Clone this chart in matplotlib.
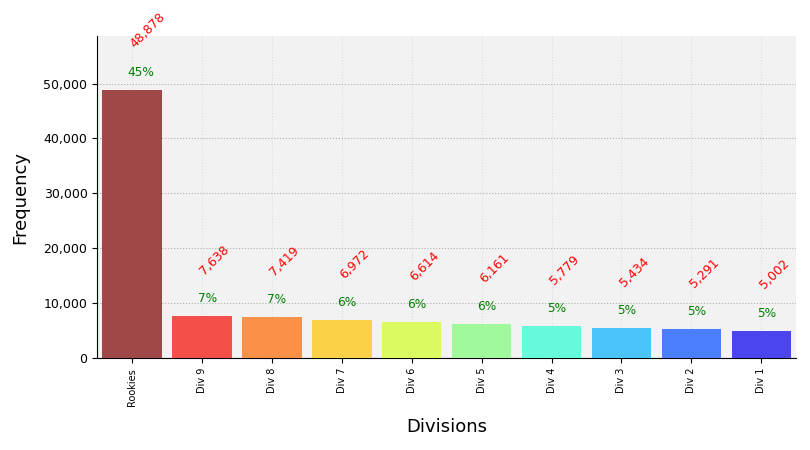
#!/usr/bin/env python3
import matplotlib
matplotlib.use("Agg")
import matplotlib.pyplot as plt
import numpy as np

divisions = ["Rookies", "Div 9", "Div 8", "Div 7", "Div 6", "Div 5", "Div 4", "Div 3", "Div 2", "Div 1"]
counts = [48878, 7638, 7419, 6972, 6614, 6161, 5779, 5434, 5291, 5002]
percents = [45, 7, 7, 6, 6, 6, 5, 5, 5, 5]
bar_colors = ["#a04848", "#f25049", "#fb9049", "#fcd14a", "#dbfa5f",
              "#a0fa9c", "#66fadb", "#4bc4fb", "#4a7efb", "#4a45ef"]


def plot_divisions() -> None:
    fig = plt.figure(figsize=(8.1, 4.5), dpi=100)
    ax = fig.add_axes([0.12, 0.204, 0.863, 0.716])
    ax.set_facecolor("#f2f2f2")

    x = np.arange(len(divisions))
    ax.bar(x, counts, width=0.85, color=bar_colors, zorder=3)

    top = max(counts)
    for xi, c, p in zip(x, counts, percents):
        ax.text(xi - 0.065, c + 0.041 * top, f"{p}%", color="green",
                ha="left", va="bottom", fontsize=8.7, zorder=4)
        ax.text(xi - 0.065, c + 0.145 * top, f"{c:,}", color="red", rotation=45,
                ha="left", va="bottom", fontsize=9, zorder=4)

    ax.set_ylim(0, top * 1.2)
    ax.set_xlim(-0.5, len(divisions) - 0.5)
    ax.set_xticks(x)
    ax.set_xticklabels(divisions, rotation=90, fontsize=7)
    ax.yaxis.set_major_formatter(matplotlib.ticker.FuncFormatter(lambda v, p: f"{int(v):,}"))
    ax.tick_params(axis="y", labelsize=9)
    ax.grid(axis="y", linestyle=":", color="#b0b0b0", zorder=0)
    ax.grid(axis="x", linestyle=":", color="#dddddd", zorder=0)
    ax.spines["top"].set_visible(False)
    ax.spines["right"].set_visible(False)
    ax.set_ylabel("Frequency", fontsize=13, labelpad=10)
    ax.set_xlabel("Divisions", fontsize=13, labelpad=9)

    fig.savefig("out.png", dpi=100)
    plt.close(fig)


if __name__ == "__main__":
    plot_divisions()
